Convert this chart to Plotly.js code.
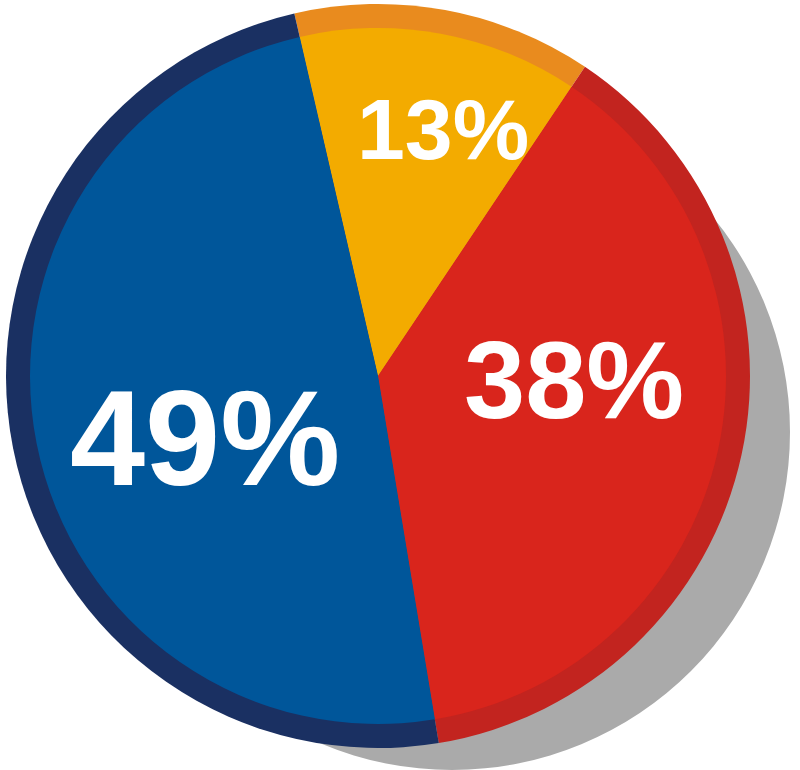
<!DOCTYPE html>
<html>
<head>
<meta charset="utf-8">
<script src="https://cdn.plot.ly/plotly-3.0.1.min.js"></script>
<style>html,body{margin:0;padding:0;background:#fff;}#chart{width:800px;height:770px;}</style>
</head>
<body>
<div id="chart"></div>
<script>
// ---- data ----
const categories = ["A", "B", "C"];
const values = [13, 38, 49];
// ---- styles ----
const mainColors = ["#f3ab00", "#d9251c", "#00569a"];
const ringColors = ["#e98b1e", "#c2241f", "#1a3062"];
const shadowColor = "#aaaaaa";
const labelSizes = [86, 110, 135];
const labelPos = [[0.554, 0.832], [0.717, 0.507], [0.256, 0.430]]; // paper coords (layout)
const rotation = -13;

const shadow = {
  type: "pie", values: [1], labels: ["shadow"], sort: false,
  marker: {colors: [shadowColor], line: {width: 0}},
  textinfo: "none", hoverinfo: "skip", showlegend: false,
  domain: {x: [0.1425, 0.9875], y: [0.0, 0.87792]}
};
const ring = {
  type: "pie", values: values, labels: categories, sort: false,
  direction: "clockwise", rotation: rotation,
  marker: {colors: ringColors, line: {width: 0}},
  textinfo: "none", hoverinfo: "skip", showlegend: false,
  domain: {x: [0.0075, 0.9375], y: [0.02857, 0.99481]}
};
const inner = {
  type: "pie", values: values, labels: categories, sort: false,
  direction: "clockwise", rotation: rotation,
  marker: {colors: mainColors, line: {width: 0}},
  textinfo: "none", hoverinfo: "skip", showlegend: false,
  domain: {x: [0.0375, 0.9075], y: [0.05974, 0.96364]}
};

const annotations = values.map((v, i) => ({
  text: v + "%",
  xref: "paper", yref: "paper",
  x: labelPos[i][0], y: labelPos[i][1],
  xanchor: "center", yanchor: "middle",
  showarrow: false,
  font: {family: "Liberation Sans, Arial, sans-serif", size: labelSizes[i], color: "#ffffff", weight: "bold"}
}));

Plotly.newPlot("chart", [shadow, ring, inner], {
  width: 800, height: 770,
  margin: {l: 0, r: 0, t: 0, b: 0},
  paper_bgcolor: "#ffffff", plot_bgcolor: "#ffffff",
  showlegend: false,
  annotations: annotations
}, {staticPlot: true});
</script>
</body>
</html>
